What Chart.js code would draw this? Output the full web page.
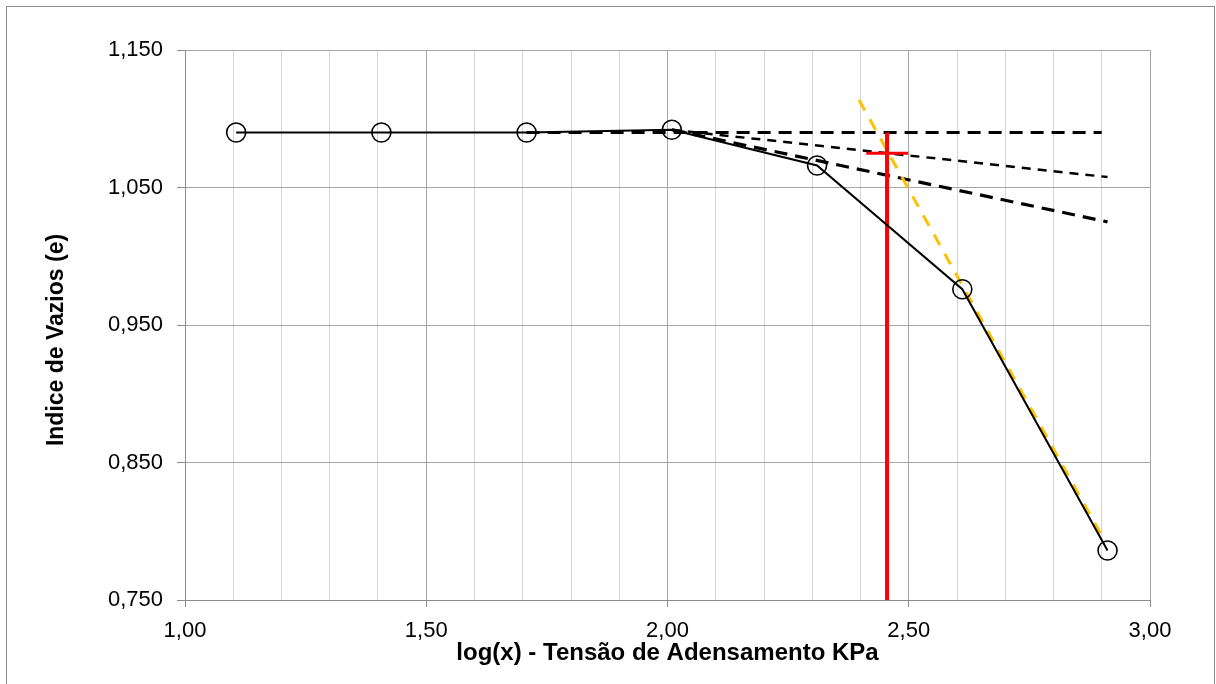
<!DOCTYPE html>
<html>
<head>
<meta charset="utf-8">
<script src="https://cdn.jsdelivr.net/npm/chart.js@4"></script>
<style>
  html, body { margin: 0; padding: 0; background: #fff; }
  #wrap { width: 1216px; height: 684px; }
</style>
</head>
<body>
<div id="wrap"><canvas id="grafico" width="1216" height="684"></canvas></div>
<script>
// ensaio de adensamento - log(tensao) x indice de vazios
const logTensao = [1.106, 1.407, 1.708, 2.009, 2.310, 2.611, 2.912];
const indiceVazios = [1.090, 1.090, 1.090, 1.092, 1.066, 0.976, 0.786];

// construcao de Casagrande
const horizontalX = [1.708, 2.900];
const horizontalY = [1.090, 1.090];
const bissetrizX = [2.009, 2.912];
const bissetrizY = [1.092, 1.0576];
const tangenteX = [2.009, 2.912];
const tangenteY = [1.092, 1.025];
const retaVirgemX = [2.397, 2.905];
const retaVirgemY = [1.1136, 0.7936];
const tensaoPreX = [2.455, 2.455];
const tensaoPreY = [1.090, 0.750];
const marcaX = [2.412, 2.499];
const marcaY = [1.075, 1.075];

// eixos
const xMin = 1.0, xMax = 3.0, xStep = 0.1;
const yMin = 0.75, yMax = 1.15, yStep = 0.1;

const tituloX = 'log(x) - Tensão de Adensamento KPa';
const tituloY = 'Indice de Vazios (e)';

const pares = (xs, ys) => xs.map((x, i) => ({ x: x, y: ys[i] }));
const ehMaior = v => Math.abs(v * 2 - Math.round(v * 2)) < 1e-6;
const FONTE = '"Liberation Sans", Arial, sans-serif';

function linha(xs, ys, cor, largura, dash) {
  return {
    data: pares(xs, ys),
    showLine: true,
    borderColor: cor,
    borderWidth: largura,
    borderDash: dash || [],
    pointRadius: 0,
    fill: false
  };
}

const molduraETitulos = {
  id: 'molduraETitulos',
  beforeDraw(chart) {
    const ctx = chart.ctx;
    ctx.save();
    ctx.strokeStyle = '#8c8c8c';
    ctx.lineWidth = 1;
    ctx.strokeRect(6.5, 6.5, 1208, 720);
    ctx.restore();
  },
  afterDraw(chart) {
    const ctx = chart.ctx;
    const area = chart.chartArea;
    ctx.save();
    ctx.fillStyle = '#000';
    ctx.font = 'bold 24px ' + FONTE;
    ctx.textAlign = 'center';
    ctx.textBaseline = 'middle';
    ctx.fillText(tituloX, (area.left + area.right) / 2, 653);
    ctx.font = 'bold 23px ' + FONTE;
    ctx.translate(57, 340);
    ctx.rotate(-Math.PI / 2);
    ctx.fillText(tituloY, 0, 0);
    ctx.restore();
  }
};

new Chart(document.getElementById('grafico'), {
  type: 'scatter',
  data: {
    datasets: [
      {
        data: pares(logTensao, indiceVazios),
        showLine: true,
        borderColor: '#000',
        borderWidth: 2,
        pointRadius: 9.5,
        pointBorderWidth: 1.6,
        pointBorderColor: '#000',
        pointBackgroundColor: 'rgba(0,0,0,0)'
      },
      linha(tensaoPreX, tensaoPreY, '#ff0000', 4),
      linha(marcaX, marcaY, '#ff0000', 3),
      linha(retaVirgemX, retaVirgemY, '#ffc000', 3, [12, 10]),
      linha(horizontalX, horizontalY, '#000', 3.2, [13, 8]),
      linha(bissetrizX, bissetrizY, '#000', 2.5, [9, 7]),
      linha(tangenteX, tangenteY, '#000', 3.2, [13, 8])
    ]
  },
  options: {
    responsive: false,
    animation: false,
    layout: { padding: { top: 50, right: 66, left: 0, bottom: 0 } },
    plugins: { legend: { display: false }, tooltip: { enabled: false } },
    scales: {
      x: {
        type: 'linear',
        min: xMin, max: xMax,
        afterFit: s => { s.height = 84; },
        border: { color: '#8c8c8c', width: 1 },
        grid: {
          color: c => ehMaior(c.tick.value) ? '#a6a6a6' : '#d4d4d4',
          tickColor: c => ehMaior(c.tick.value) ? '#8c8c8c' : 'rgba(0,0,0,0)',
          tickLength: 7
        },
        ticks: {
          stepSize: xStep,
          autoSkip: false,
          maxRotation: 0,
          padding: 11,
          color: '#000',
          font: { family: FONTE, size: 22 },
          callback: v => ehMaior(v) ? v.toFixed(2).replace('.', ',') : ''
        }
      },
      y: {
        type: 'linear',
        min: yMin, max: yMax,
        afterFit: s => { s.width = 185; },
        border: { color: '#8c8c8c', width: 1 },
        grid: { color: '#a6a6a6', tickColor: '#8c8c8c', tickLength: 8 },
        ticks: {
          stepSize: yStep,
          padding: 14,
          color: '#000',
          font: { family: FONTE, size: 22 },
          callback: v => v.toFixed(3).replace('.', ',')
        }
      }
    }
  },
  plugins: [molduraETitulos]
});
</script>
</body>
</html>
